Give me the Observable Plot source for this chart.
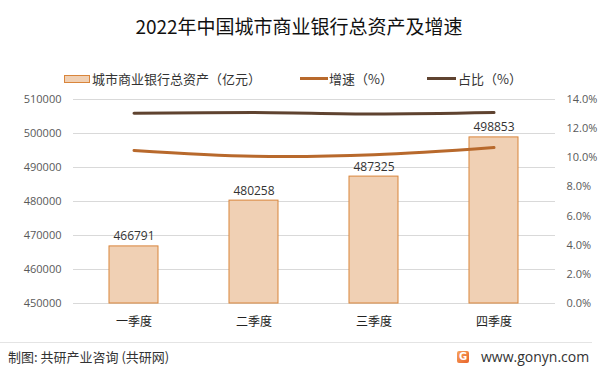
<!DOCTYPE html>
<html>
<head>
<meta charset="utf-8">
<script src="https://cdn.jsdelivr.net/npm/d3@7"></script>
<script src="https://cdn.jsdelivr.net/npm/@observablehq/plot@0.6"></script>
<style>
  html, body { margin: 0; padding: 0; background: #fff; }
  body { width: 598px; height: 372px; position: relative; overflow: hidden;
         font-family: "Noto Sans CJK SC", "Noto Sans", sans-serif; color: #222; }
  #title { position: absolute; left: 0; width: 598px; top: 12px; text-align: center;
           font-size: 19px; color: #111; line-height: 28px; }
  #legend { position: absolute; top: 70px; left: 0; width: 598px; height: 20px; font-size: 13px; color: #333; }
  .lg { position: absolute; top: 0; line-height: 18px; white-space: nowrap; }
  .sw { position: absolute; }
  #chart { position: absolute; left: 0; top: 0; }
  #sep { position: absolute; left: 0; top: 342px; width: 592px; height: 1px; background: #e4e4e4; }
  #src { position: absolute; left: 8px; top: 348px; font-size: 13px; color: #333; line-height: 18px; }
  #site { position: absolute; left: 481px; top: 347px; font-size: 14px; color: #333; line-height: 20px; font-family: "Open Sans", "Noto Sans", sans-serif; }
  #logo { position: absolute; left: 457px; top: 351px; width: 12px; height: 12px; border-radius: 2px;
          background: linear-gradient(135deg, #f7a35c, #e8632b); color: #fff; font-size: 10px; line-height: 12px;
          text-align: center; font-weight: bold; font-family: "DejaVu Sans", sans-serif; }
</style>
</head>
<body>
<div id="chart"></div>
<div id="title">2022年中国城市商业银行总资产及增速</div>
<div id="legend">
  <div class="sw" style="left:64px;top:5px;width:24px;height:6px;background:#f0d0b4;border:1px solid #d9853b;"></div>
  <div class="lg" style="left:92px;">城市商业银行总资产（亿元）</div>
  <div class="sw" style="left:300px;top:7px;width:28px;height:3px;background:#b8692c;"></div>
  <div class="lg" style="left:329px;">增速（%）</div>
  <div class="sw" style="left:427px;top:7px;width:29px;height:3px;background:#5f4330;"></div>
  <div class="lg" style="left:458px;">占比（%）</div>
</div>
<div id="sep"></div>
<div id="src">制图: 共研产业咨询 (共研网)</div>
<div id="logo">G</div>
<div id="site">www.gonyn.com</div>
<script>
const quarters = ["一季度", "二季度", "三季度", "四季度"];
const assets = [466791, 480258, 487325, 498853];
const growth = [10.5, 10.1, 10.2, 10.7];
const share = [13.05, 13.1, 13.0, 13.1];
const leftTicks = [450000, 460000, 470000, 480000, 490000, 500000, 510000];
const rightTicks = [0, 2, 4, 6, 8, 10, 12, 14];

const yMin = 450000, yMax = 510000, pMax = 14;
const toLeft = p => yMin + p / pMax * (yMax - yMin);

const barData = quarters.map((q, i) => ({q, v: assets[i]}));
const growthData = quarters.map((q, i) => ({q, v: toLeft(growth[i])}));
const shareData = quarters.map((q, i) => ({q, v: toLeft(share[i])}));

const fontFam = "'Open Sans', 'Noto Sans CJK SC', sans-serif";

const plot = Plot.plot({
  width: 598,
  height: 340,
  marginTop: 99,
  marginBottom: 37,
  marginLeft: 73,
  marginRight: 43,
  style: { fontFamily: fontFam, fontSize: "11px", color: "#595959", background: "transparent" },
  x: { domain: quarters, paddingInner: 0.59, paddingOuter: 0.295, label: null },
  y: { domain: [yMin, yMax], label: null },
  marks: [
    Plot.gridY(leftTicks, { stroke: "#d9d9d9", strokeOpacity: 1, strokeWidth: 1 }),
    Plot.barY(barData, { x: "q", y1: yMin, y2: "v", fill: "#f0d0b4", stroke: "#d9853b", strokeWidth: 1 }),
    Plot.text(barData, { x: "q", y: "v", text: d => String(d.v), lineAnchor: "bottom", dy: -6,
                         fontSize: 12, fill: "#333" }),
    Plot.line(growthData, { x: "q", y: "v", stroke: "#b8692c", strokeWidth: 3, curve: "catmull-rom" }),
    Plot.line(shareData, { x: "q", y: "v", stroke: "#5f4330", strokeWidth: 3, curve: "catmull-rom" }),
    Plot.axisY(leftTicks, { anchor: "left", tickSize: 0, tickPadding: 12, tickFormat: d => String(d),
                            fontSize: 11, fill: "#595959", label: null }),
    Plot.axisY(rightTicks.map(toLeft), { anchor: "right", tickSize: 0, tickPadding: 11,
                            tickFormat: d => ((d - yMin) / (yMax - yMin) * pMax).toFixed(1) + "%",
                            fontSize: 11, fill: "#595959", label: null }),
    Plot.axisX({ tickSize: 0, tickPadding: 14, fontSize: 12, fill: "#222", label: null,
                 fontFamily: "'Noto Sans CJK SC', sans-serif" })
  ]
});
document.getElementById("chart").appendChild(plot);
</script>
</body>
</html>
